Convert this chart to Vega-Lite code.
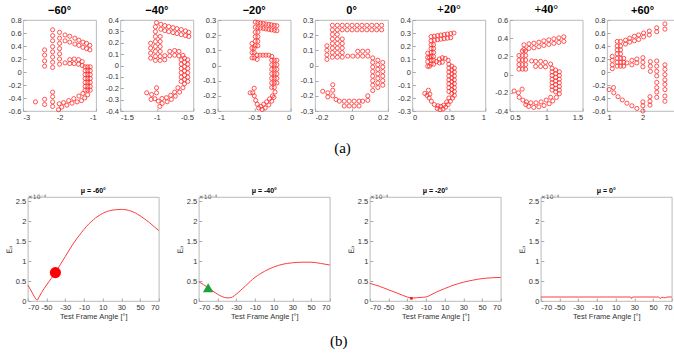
{
"$schema":"https://vega.github.io/schema/vega-lite/v6.json",
"padding":{"left":4,"top":2,"right":0,"bottom":0},
"background":"white",
"config":{
"view":{"stroke":"#a8a8a8","strokeWidth":0.8},
"numberFormat":"~r",
"locale":{"number":{"decimal":".","thousands":",","grouping":[3],"currency":["$",""],"minus":"-"}},
"axis":{"domain":false,"grid":false,"labelOverlap":false,"tickCount":20,"tickColor":"#a8a8a8","tickSize":-3,"labelFont":"Liberation Sans","labelFontSize":7.5,"labelColor":"#333333","labelPadding":5,"titleFont":"Liberation Sans","titleFontWeight":"normal","titleColor":"#333333","titleFontSize":7.5},
"title":{"font":"Liberation Sans","fontWeight":"bold","color":"#000000"}
},
"datasets":{
"p1":[{"x":-2.41,"y":0.34},{"x":-2.41,"y":0.26},{"x":-2.41,"y":0.17},{"x":-2.41,"y":0.09},
{"x":-2.19,"y":0.65},{"x":-2.19,"y":0.56},{"x":-2.19,"y":0.48},{"x":-2.19,"y":0.39},{"x":-2.19,"y":0.31},{"x":-2.19,"y":0.23},{"x":-2.19,"y":0.15},{"x":-2.19,"y":0.07},
{"x":-2.0,"y":0.61},{"x":-2.0,"y":0.52},{"x":-2.0,"y":0.44},{"x":-2.0,"y":0.36},{"x":-2.0,"y":0.28},{"x":-2.0,"y":0.2},{"x":-2.0,"y":0.12},
{"x":-1.85,"y":0.57},{"x":-1.72,"y":0.55},{"x":-1.58,"y":0.52},{"x":-1.47,"y":0.49},{"x":-1.36,"y":0.46},{"x":-1.26,"y":0.44},{"x":-1.17,"y":0.41},
{"x":-1.85,"y":0.48},{"x":-1.72,"y":0.46},{"x":-1.58,"y":0.43},{"x":-1.47,"y":0.41},{"x":-1.36,"y":0.38},{"x":-1.26,"y":0.36},{"x":-1.17,"y":0.34},
{"x":-1.85,"y":0.14},{"x":-1.72,"y":0.19},{"x":-1.6,"y":0.2},{"x":-1.48,"y":0.19},{"x":-1.38,"y":0.16},{"x":-1.72,"y":0.13},{"x":-1.6,"y":0.13},{"x":-1.48,"y":0.12},{"x":-1.38,"y":0.1},
{"x":-1.3,"y":0.08},{"x":-1.3,"y":0.02},{"x":-1.3,"y":-0.04},{"x":-1.3,"y":-0.1},{"x":-1.3,"y":-0.16},{"x":-1.3,"y":-0.22},{"x":-1.3,"y":-0.28},
{"x":-1.23,"y":0.08},{"x":-1.23,"y":0.02},{"x":-1.23,"y":-0.04},{"x":-1.23,"y":-0.1},{"x":-1.23,"y":-0.16},{"x":-1.23,"y":-0.22},{"x":-1.23,"y":-0.28},
{"x":-1.16,"y":0.08},{"x":-1.16,"y":0.02},{"x":-1.16,"y":-0.04},{"x":-1.16,"y":-0.1},{"x":-1.16,"y":-0.16},{"x":-1.16,"y":-0.22},{"x":-1.16,"y":-0.28},
{"x":-1.23,"y":-0.35},{"x":-1.31,"y":-0.4},{"x":-1.4,"y":-0.44},{"x":-1.52,"y":-0.46},{"x":-1.66,"y":-0.48},{"x":-1.8,"y":-0.51},{"x":-1.94,"y":-0.54},{"x":-2.03,"y":-0.58},
{"x":-1.36,"y":-0.33},{"x":-1.47,"y":-0.37},{"x":-1.61,"y":-0.41},{"x":-1.75,"y":-0.44},{"x":-1.89,"y":-0.47},{"x":-2.01,"y":-0.49},
{"x":-2.19,"y":-0.31},{"x":-2.19,"y":-0.38},{"x":-2.19,"y":-0.46},{"x":-2.19,"y":-0.53},{"x":-2.41,"y":-0.42},{"x":-2.41,"y":-0.5},{"x":-2.66,"y":-0.46}],
"p2":[{"x":-1.005,"y":0.377},{"x":-0.946,"y":0.362},{"x":-0.892,"y":0.351},{"x":-0.838,"y":0.342},{"x":-0.779,"y":0.333},{"x":-0.725,"y":0.324},{"x":-0.667,"y":0.316},{"x":-0.608,"y":0.304},{"x":-0.563,"y":0.292},
{"x":-0.946,"y":0.319},{"x":-0.892,"y":0.307},{"x":-0.838,"y":0.298},{"x":-0.779,"y":0.289},{"x":-0.725,"y":0.281},{"x":-0.667,"y":0.272},{"x":-0.608,"y":0.263},{"x":-0.563,"y":0.255},
{"x":-1.02,"y":0.34},{"x":-1.02,"y":0.298},{"x":-1.02,"y":0.255},{"x":-1.02,"y":0.211},{"x":-1.02,"y":0.167},{"x":-1.02,"y":0.124},{"x":-1.02,"y":0.08},{"x":-1.02,"y":0.045},
{"x":-0.955,"y":0.255},{"x":-0.955,"y":0.211},{"x":-0.955,"y":0.167},{"x":-0.955,"y":0.124},{"x":-0.955,"y":0.08},{"x":-0.955,"y":0.045},
{"x":-1.086,"y":0.196},{"x":-1.086,"y":0.153},{"x":-1.086,"y":0.109},{"x":-1.086,"y":0.065},
{"x":-0.892,"y":0.086},{"x":-0.824,"y":0.124},{"x":-0.757,"y":0.132},{"x":-0.698,"y":0.124},{"x":-0.644,"y":0.089},{"x":-0.892,"y":0.05},{"x":-0.824,"y":0.085},{"x":-0.757,"y":0.09},{"x":-0.698,"y":0.085},
{"x":-0.667,"y":0.05},{"x":-0.667,"y":0.012},{"x":-0.667,"y":-0.026},{"x":-0.667,"y":-0.064},{"x":-0.667,"y":-0.102},{"x":-0.667,"y":-0.14},
{"x":-0.622,"y":0.065},{"x":-0.622,"y":0.028},{"x":-0.622,"y":-0.01},{"x":-0.622,"y":-0.048},{"x":-0.622,"y":-0.086},{"x":-0.622,"y":-0.124},{"x":-0.622,"y":-0.161},
{"x":-0.577,"y":0.05},{"x":-0.577,"y":0.012},{"x":-0.577,"y":-0.026},{"x":-0.577,"y":-0.064},{"x":-0.577,"y":-0.102},{"x":-0.577,"y":-0.14},
{"x":-0.644,"y":-0.196},{"x":-0.689,"y":-0.234},{"x":-0.748,"y":-0.269},{"x":-0.802,"y":-0.298},{"x":-0.86,"y":-0.319},{"x":-0.928,"y":-0.333},{"x":-0.982,"y":-0.313},{"x":-1.027,"y":-0.292},
{"x":-0.712,"y":-0.196},{"x":-0.757,"y":-0.234},{"x":-0.811,"y":-0.262},{"x":-0.869,"y":-0.283},{"x":-0.93,"y":-0.29},{"x":-0.96,"y":-0.36},
{"x":-1.005,"y":-0.196},{"x":-1.005,"y":-0.24},{"x":-1.072,"y":-0.255},{"x":-1.14,"y":-0.24},{"x":-1.08,"y":-0.298}],
"p3":[{"x":-0.486,"y":0.286},{"x":-0.45,"y":0.283},{"x":-0.414,"y":0.28},{"x":-0.375,"y":0.277},{"x":-0.34,"y":0.274},{"x":-0.3,"y":0.271},{"x":-0.264,"y":0.268},{"x":-0.225,"y":0.265},{"x":-0.19,"y":0.262},
{"x":-0.486,"y":0.253},{"x":-0.45,"y":0.25},{"x":-0.414,"y":0.247},{"x":-0.375,"y":0.244},{"x":-0.34,"y":0.241},{"x":-0.3,"y":0.238},{"x":-0.264,"y":0.235},{"x":-0.225,"y":0.232},{"x":-0.19,"y":0.229},
{"x":-0.486,"y":0.22},{"x":-0.486,"y":0.19},{"x":-0.486,"y":0.16},{"x":-0.486,"y":0.13},{"x":-0.45,"y":0.22},{"x":-0.45,"y":0.19},{"x":-0.45,"y":0.16},{"x":-0.45,"y":0.13},
{"x":-0.53,"y":0.145},{"x":-0.53,"y":0.115},{"x":-0.53,"y":0.085},{"x":-0.53,"y":0.05},{"x":-0.5,"y":0.115},{"x":-0.5,"y":0.085},{"x":-0.5,"y":0.05},
{"x":-0.46,"y":0.068},{"x":-0.42,"y":0.068},{"x":-0.38,"y":0.068},{"x":-0.34,"y":0.068},{"x":-0.3,"y":0.068},{"x":-0.26,"y":0.06},{"x":-0.46,"y":0.04},
{"x":-0.26,"y":0.035},{"x":-0.26,"y":0.005},{"x":-0.26,"y":-0.025},{"x":-0.26,"y":-0.055},{"x":-0.26,"y":-0.085},{"x":-0.26,"y":-0.115},{"x":-0.26,"y":-0.145},
{"x":-0.225,"y":0.035},{"x":-0.225,"y":0.005},{"x":-0.225,"y":-0.025},{"x":-0.225,"y":-0.055},{"x":-0.225,"y":-0.085},{"x":-0.225,"y":-0.115},{"x":-0.225,"y":-0.145},
{"x":-0.19,"y":0.035},{"x":-0.19,"y":0.005},{"x":-0.19,"y":-0.025},{"x":-0.19,"y":-0.055},{"x":-0.19,"y":-0.085},{"x":-0.19,"y":-0.115},
{"x":-0.215,"y":-0.175},{"x":-0.25,"y":-0.2},{"x":-0.29,"y":-0.22},{"x":-0.33,"y":-0.24},{"x":-0.37,"y":-0.255},{"x":-0.41,"y":-0.27},{"x":-0.44,"y":-0.28},{"x":-0.39,"y":-0.29},{"x":-0.35,"y":-0.28},{"x":-0.3,"y":-0.26},{"x":-0.26,"y":-0.235},{"x":-0.23,"y":-0.21},
{"x":-0.556,"y":-0.18},{"x":-0.52,"y":-0.18},{"x":-0.5,"y":-0.15},{"x":-0.5,"y":-0.2},{"x":-0.48,"y":-0.23},{"x":-0.46,"y":-0.255}],
"p4":[{"x":-0.105,"y":0.265},{"x":-0.078,"y":0.265},{"x":-0.051,"y":0.265},{"x":-0.024,"y":0.265},{"x":0.003,"y":0.265},{"x":0.03,"y":0.265},{"x":0.057,"y":0.265},{"x":0.084,"y":0.265},{"x":0.111,"y":0.265},{"x":0.138,"y":0.265},{"x":0.165,"y":0.265},
{"x":-0.105,"y":0.235},{"x":-0.078,"y":0.235},{"x":-0.051,"y":0.235},{"x":-0.024,"y":0.235},{"x":0.003,"y":0.235},{"x":0.03,"y":0.235},{"x":0.057,"y":0.235},{"x":0.084,"y":0.235},{"x":0.111,"y":0.235},{"x":0.138,"y":0.235},{"x":0.165,"y":0.235},
{"x":-0.105,"y":0.205},{"x":-0.105,"y":0.175},{"x":-0.105,"y":0.145},{"x":-0.105,"y":0.115},{"x":-0.105,"y":0.085},{"x":-0.105,"y":0.055},
{"x":-0.078,"y":0.205},{"x":-0.078,"y":0.175},{"x":-0.078,"y":0.145},{"x":-0.078,"y":0.115},{"x":-0.078,"y":0.085},{"x":-0.078,"y":0.055},
{"x":-0.051,"y":0.175},{"x":-0.051,"y":0.145},{"x":-0.051,"y":0.115},{"x":-0.051,"y":0.085},{"x":-0.051,"y":0.055},
{"x":-0.135,"y":0.13},{"x":-0.135,"y":0.1},{"x":-0.135,"y":0.07},{"x":-0.135,"y":0.04},
{"x":0.034,"y":0.094},{"x":0.061,"y":0.094},{"x":0.089,"y":0.094},{"x":-0.021,"y":0.062},{"x":0.007,"y":0.062},{"x":0.034,"y":0.062},{"x":0.061,"y":0.062},{"x":0.089,"y":0.062},
{"x":0.116,"y":0.05},{"x":0.116,"y":0.02},{"x":0.116,"y":-0.01},{"x":0.116,"y":-0.04},{"x":0.116,"y":-0.07},{"x":0.116,"y":-0.1},{"x":0.116,"y":-0.13},
{"x":0.144,"y":0.035},{"x":0.144,"y":0.005},{"x":0.144,"y":-0.025},{"x":0.144,"y":-0.055},{"x":0.144,"y":-0.085},{"x":0.144,"y":-0.115},{"x":0.144,"y":-0.145},
{"x":0.171,"y":0.02},{"x":0.171,"y":-0.01},{"x":0.171,"y":-0.04},{"x":0.171,"y":-0.07},{"x":0.171,"y":-0.1},{"x":0.171,"y":-0.13},
{"x":0.116,"y":-0.165},{"x":0.089,"y":-0.2},{"x":0.089,"y":-0.23},
{"x":-0.067,"y":-0.235},{"x":-0.04,"y":-0.235},{"x":-0.013,"y":-0.235},{"x":0.014,"y":-0.235},{"x":0.041,"y":-0.235},{"x":0.061,"y":-0.235},
{"x":-0.04,"y":-0.267},{"x":-0.013,"y":-0.267},{"x":0.014,"y":-0.267},{"x":0.041,"y":-0.267},
{"x":-0.158,"y":-0.17},{"x":-0.13,"y":-0.18},{"x":-0.103,"y":-0.127},{"x":-0.13,"y":-0.207},{"x":-0.103,"y":-0.163},{"x":-0.103,"y":-0.2},{"x":-0.085,"y":-0.224}],
"p5":[{"x":0.256,"y":0.272},{"x":0.3,"y":0.276},{"x":0.345,"y":0.28},{"x":0.39,"y":0.284},{"x":0.435,"y":0.288},{"x":0.48,"y":0.292},{"x":0.525,"y":0.296},{"x":0.57,"y":0.3},
{"x":0.256,"y":0.24},{"x":0.3,"y":0.244},{"x":0.345,"y":0.248},{"x":0.39,"y":0.252},{"x":0.435,"y":0.256},{"x":0.48,"y":0.26},{"x":0.525,"y":0.264},
{"x":0.256,"y":0.21},{"x":0.256,"y":0.18},{"x":0.256,"y":0.15},{"x":0.256,"y":0.12},{"x":0.256,"y":0.09},{"x":0.256,"y":0.06},
{"x":0.29,"y":0.21},{"x":0.29,"y":0.18},{"x":0.29,"y":0.15},{"x":0.29,"y":0.12},{"x":0.29,"y":0.09},{"x":0.29,"y":0.06},
{"x":0.21,"y":0.145},{"x":0.21,"y":0.112},{"x":0.21,"y":0.079},{"x":0.21,"y":0.044},{"x":0.235,"y":0.112},{"x":0.235,"y":0.044},
{"x":0.33,"y":0.08},{"x":0.37,"y":0.1},{"x":0.41,"y":0.11},{"x":0.45,"y":0.105},{"x":0.49,"y":0.09},{"x":0.37,"y":0.07},{"x":0.41,"y":0.075},
{"x":0.5,"y":0.06},{"x":0.5,"y":0.03},{"x":0.5,"y":0.0},{"x":0.5,"y":-0.03},{"x":0.5,"y":-0.06},{"x":0.5,"y":-0.09},{"x":0.5,"y":-0.12},{"x":0.5,"y":-0.15},
{"x":0.54,"y":0.045},{"x":0.54,"y":0.015},{"x":0.54,"y":-0.015},{"x":0.54,"y":-0.045},{"x":0.54,"y":-0.075},{"x":0.54,"y":-0.105},{"x":0.54,"y":-0.135},{"x":0.54,"y":-0.165},
{"x":0.575,"y":0.03},{"x":0.575,"y":0.0},{"x":0.575,"y":-0.03},{"x":0.575,"y":-0.06},{"x":0.575,"y":-0.09},{"x":0.575,"y":-0.12},{"x":0.575,"y":-0.15},{"x":0.575,"y":-0.18},
{"x":0.55,"y":-0.2},{"x":0.52,"y":-0.225},{"x":0.49,"y":-0.25},{"x":0.455,"y":-0.27},{"x":0.42,"y":-0.285},{"x":0.38,"y":-0.29},{"x":0.34,"y":-0.28},
{"x":0.5,"y":-0.2},{"x":0.47,"y":-0.23},{"x":0.43,"y":-0.255},{"x":0.39,"y":-0.265},{"x":0.35,"y":-0.26},
{"x":0.17,"y":-0.165},{"x":0.22,"y":-0.14},{"x":0.2,"y":-0.18},{"x":0.23,"y":-0.2},{"x":0.26,"y":-0.225},{"x":0.3,"y":-0.25},{"x":0.24,"y":-0.17}],
"p6":[{"x":0.695,"y":0.327},{"x":0.764,"y":0.338},{"x":0.832,"y":0.345},{"x":0.9,"y":0.356},{"x":0.968,"y":0.371},{"x":1.036,"y":0.382},{"x":1.105,"y":0.393},{"x":1.173,"y":0.404},{"x":1.241,"y":0.415},
{"x":0.695,"y":0.277},{"x":0.764,"y":0.288},{"x":0.832,"y":0.295},{"x":0.9,"y":0.306},{"x":0.968,"y":0.321},{"x":1.036,"y":0.332},{"x":1.105,"y":0.343},{"x":1.173,"y":0.354},{"x":1.241,"y":0.365},
{"x":0.627,"y":0.21},{"x":0.627,"y":0.16},{"x":0.627,"y":0.11},{"x":0.627,"y":0.06},
{"x":0.673,"y":0.26},{"x":0.673,"y":0.21},{"x":0.673,"y":0.16},{"x":0.673,"y":0.11},{"x":0.673,"y":0.06},
{"x":0.718,"y":0.26},{"x":0.718,"y":0.21},{"x":0.718,"y":0.16},{"x":0.718,"y":0.11},{"x":0.718,"y":0.06},
{"x":0.8,"y":0.15},{"x":0.855,"y":0.145},{"x":0.923,"y":0.145},{"x":0.99,"y":0.135},{"x":1.06,"y":0.116},{"x":0.855,"y":0.09},{"x":0.923,"y":0.09},{"x":0.99,"y":0.085},
{"x":1.08,"y":0.07},{"x":1.08,"y":0.03},{"x":1.08,"y":-0.01},{"x":1.08,"y":-0.05},{"x":1.08,"y":-0.09},{"x":1.08,"y":-0.13},{"x":1.08,"y":-0.17},
{"x":1.13,"y":0.05},{"x":1.13,"y":0.01},{"x":1.13,"y":-0.03},{"x":1.13,"y":-0.07},{"x":1.13,"y":-0.11},{"x":1.13,"y":-0.15},{"x":1.13,"y":-0.19},
{"x":1.18,"y":0.03},{"x":1.18,"y":-0.01},{"x":1.18,"y":-0.05},{"x":1.18,"y":-0.09},{"x":1.18,"y":-0.13},{"x":1.18,"y":-0.17},{"x":1.18,"y":-0.21},
{"x":1.14,"y":-0.25},{"x":1.09,"y":-0.29},{"x":1.04,"y":-0.32},{"x":0.97,"y":-0.34},{"x":0.9,"y":-0.355},{"x":0.83,"y":-0.36},
{"x":1.06,"y":-0.25},{"x":1.0,"y":-0.28},{"x":0.93,"y":-0.3},{"x":0.86,"y":-0.31},{"x":0.79,"y":-0.31},{"x":0.73,"y":-0.3},{"x":0.68,"y":-0.28},
{"x":0.56,"y":-0.18},{"x":0.62,"y":-0.2},{"x":0.67,"y":-0.16},{"x":0.63,"y":-0.25},{"x":0.72,"y":-0.33},{"x":0.76,"y":-0.35}],
"p7":[{"x":1.287,"y":0.47},{"x":1.287,"y":0.4},{"x":1.287,"y":0.34},{"x":1.287,"y":0.28},{"x":1.287,"y":0.21},{"x":1.287,"y":0.15},{"x":1.287,"y":0.09},
{"x":1.38,"y":0.47},{"x":1.38,"y":0.4},{"x":1.38,"y":0.34},{"x":1.38,"y":0.28},{"x":1.38,"y":0.21},{"x":1.38,"y":0.15},{"x":1.38,"y":0.09},
{"x":1.47,"y":0.21},{"x":1.47,"y":0.15},{"x":1.47,"y":0.09},
{"x":1.148,"y":0.24},{"x":1.148,"y":0.18},{"x":1.148,"y":0.11},{"x":1.148,"y":0.05},
{"x":1.52,"y":0.49},{"x":1.64,"y":0.52},{"x":1.77,"y":0.55},{"x":1.89,"y":0.57},{"x":2.03,"y":0.6},{"x":2.19,"y":0.63},{"x":2.4,"y":0.68},{"x":2.63,"y":0.74},
{"x":1.52,"y":0.43},{"x":1.64,"y":0.46},{"x":1.77,"y":0.48},{"x":1.89,"y":0.5},{"x":2.03,"y":0.54},{"x":2.19,"y":0.57},{"x":2.4,"y":0.62},{"x":2.63,"y":0.66},
{"x":1.56,"y":0.14},{"x":1.7,"y":0.18},{"x":1.84,"y":0.2},{"x":2.01,"y":0.22},{"x":1.7,"y":0.11},{"x":1.84,"y":0.14},{"x":2.01,"y":0.15},{"x":2.01,"y":0.08},
{"x":2.22,"y":0.16},{"x":2.22,"y":0.09},{"x":2.22,"y":0.01},
{"x":2.4,"y":0.17},{"x":2.4,"y":0.09},{"x":2.4,"y":0.01},{"x":2.4,"y":-0.06},{"x":2.4,"y":-0.16},{"x":2.4,"y":-0.24},{"x":2.4,"y":-0.31},{"x":2.4,"y":-0.39},
{"x":2.63,"y":0.11},{"x":2.63,"y":0.04},{"x":2.63,"y":-0.04},{"x":2.63,"y":-0.12},{"x":2.63,"y":-0.19},{"x":2.63,"y":-0.27},{"x":2.63,"y":-0.37},{"x":2.63,"y":-0.45},
{"x":1.06,"y":-0.27},{"x":1.18,"y":-0.24},{"x":1.19,"y":-0.32},{"x":1.31,"y":-0.38},{"x":1.43,"y":-0.43},{"x":1.56,"y":-0.48},{"x":1.7,"y":-0.52},{"x":1.84,"y":-0.56},{"x":2.01,"y":-0.6},
{"x":2.01,"y":-0.52},{"x":2.01,"y":-0.46},{"x":2.21,"y":-0.51},{"x":2.21,"y":-0.45},{"x":2.21,"y":-0.38}],
"c1":[{"a":-70,"e":0.4},{"a":-67,"e":0.28},{"a":-64,"e":0.15},{"a":-61,"e":0.04},{"a":-60,"e":0.02},{"a":-58,"e":0.1},{"a":-55,"e":0.22},{"a":-50,"e":0.4},{"a":-45,"e":0.56},{"a":-40,"e":0.73},{"a":-35,"e":0.92},{"a":-30,"e":1.11},{"a":-25,"e":1.3},{"a":-20,"e":1.48},{"a":-15,"e":1.64},{"a":-10,"e":1.79},{"a":-5,"e":1.92},{"a":0,"e":2.03},{"a":5,"e":2.12},{"a":10,"e":2.19},{"a":15,"e":2.24},{"a":20,"e":2.27},{"a":25,"e":2.285},{"a":30,"e":2.29},{"a":35,"e":2.28},{"a":40,"e":2.25},{"a":45,"e":2.2},{"a":50,"e":2.13},{"a":55,"e":2.05},{"a":60,"e":1.96},{"a":65,"e":1.86},{"a":70,"e":1.76}],
"c2":[{"a":-70,"e":0.48},{"a":-65,"e":0.41},{"a":-60,"e":0.33},{"a":-55,"e":0.25},{"a":-50,"e":0.17},{"a":-45,"e":0.11},{"a":-40,"e":0.08},{"a":-37,"e":0.08},{"a":-34,"e":0.1},{"a":-30,"e":0.17},{"a":-25,"e":0.27},{"a":-20,"e":0.38},{"a":-15,"e":0.49},{"a":-10,"e":0.59},{"a":-5,"e":0.67},{"a":0,"e":0.74},{"a":5,"e":0.8},{"a":10,"e":0.85},{"a":15,"e":0.89},{"a":20,"e":0.92},{"a":30,"e":0.955},{"a":40,"e":0.97},{"a":50,"e":0.97},{"a":60,"e":0.94},{"a":70,"e":0.9}],
"c3":[{"a":-70,"e":0.44},{"a":-60,"e":0.37},{"a":-50,"e":0.28},{"a":-40,"e":0.19},{"a":-30,"e":0.1},{"a":-27,"e":0.08},{"a":-25,"e":0.075},{"a":-20,"e":0.08},{"a":-15,"e":0.09},{"a":-10,"e":0.1},{"a":-5,"e":0.15},{"a":0,"e":0.21},{"a":10,"e":0.31},{"a":20,"e":0.4},{"a":30,"e":0.47},{"a":40,"e":0.52},{"a":50,"e":0.56},{"a":60,"e":0.58},{"a":70,"e":0.59}],
"c4":[{"a":-70,"e":0.1},{"a":-30,"e":0.1},{"a":0,"e":0.1},{"a":26,"e":0.1},{"a":27,"e":0.06},{"a":28,"e":0.1},{"a":56,"e":0.1},{"a":57.5,"e":0.06},{"a":59,"e":0.09},{"a":61,"e":0.09},{"a":63,"e":0.08},{"a":65,"e":0.1},{"a":70,"e":0.1}],
"sc":[{"label":"×10⁻⁴"}]
},
"spacing":29,
"center":true,
"vconcat":[
{"spacing":24.33,"bounds":"flush",
"hconcat":[
{"width":73,"height":91,"title":{"text":"−60°","fontSize":11,"offset":0},"data":{"name":"p1"},"mark":{"type":"point","shape":"circle","filled":false,"color":"#ff2a2a","size":17,"strokeWidth":0.8,"opacity":1},
"encoding":{"x":{"field":"x","type":"quantitative","scale":{"domain":[-3,-1]},"axis":{"values":[-3,-2,-1],"title":null}},"y":{"field":"y","type":"quantitative","scale":{"domain":[-0.6,0.8]},"axis":{"values":[-0.6,-0.4,-0.2,0,0.2,0.4,0.6,0.8],"title":null}}}},
{"width":73,"height":91,"title":{"text":"−40°","fontSize":11,"offset":0},"data":{"name":"p2"},"mark":{"type":"point","shape":"circle","filled":false,"color":"#ff2a2a","size":17,"strokeWidth":0.8,"opacity":1},
"encoding":{"x":{"field":"x","type":"quantitative","scale":{"domain":[-1.5,-0.5]},"axis":{"values":[-1.5,-1,-0.5],"title":null}},"y":{"field":"y","type":"quantitative","scale":{"domain":[-0.4,0.4]},"axis":{"values":[-0.4,-0.3,-0.2,-0.1,0,0.1,0.2,0.3,0.4],"title":null}}}},
{"width":73,"height":91,"title":{"text":"−20°","fontSize":11,"offset":0},"data":{"name":"p3"},"mark":{"type":"point","shape":"circle","filled":false,"color":"#ff2a2a","size":17,"strokeWidth":0.8,"opacity":1},
"encoding":{"x":{"field":"x","type":"quantitative","scale":{"domain":[-1,0]},"axis":{"values":[-1,-0.5,0],"title":null}},"y":{"field":"y","type":"quantitative","scale":{"domain":[-0.3,0.3]},"axis":{"values":[-0.3,-0.2,-0.1,0,0.1,0.2,0.3],"title":null}}}},
{"width":73,"height":91,"title":{"text":"0°","fontSize":11,"offset":0},
"layer":[
{"data":{"name":"p4"},"mark":{"type":"point","shape":"circle","filled":false,"color":"#ff2a2a","size":17,"strokeWidth":0.8,"opacity":1},
"encoding":{"x":{"field":"x","type":"quantitative","scale":{"domain":[-0.2,0.2]},"axis":{"values":[-0.2,0,0.2],"title":null,"tickCount":20}},"y":{"field":"y","type":"quantitative","scale":{"domain":[-0.3,0.3]},"axis":{"values":[-0.3,-0.2,-0.1,0,0.1,0.2,0.3],"title":null,"tickCount":20}}}},
{"data":{"values":[{"label":"(a)"}]},"mark":{"type":"text","font":"Liberation Serif","fontSize":15,"color":"#000000","baseline":"middle","align":"center","dx":-9,"dy":37},"encoding":{"text":{"field":"label"},"x":{"datum":0},"y":{"datum":-0.3}}}
]},
{"width":73,"height":91,"title":{"text":"+20°","fontSize":12,"font":"Liberation Serif","offset":0},"data":{"name":"p5"},"mark":{"type":"point","shape":"circle","filled":false,"color":"#ff2a2a","size":17,"strokeWidth":0.8,"opacity":1},
"encoding":{"x":{"field":"x","type":"quantitative","scale":{"domain":[0,1]},"axis":{"values":[0,0.5,1],"title":null}},"y":{"field":"y","type":"quantitative","scale":{"domain":[-0.3,0.4]},"axis":{"values":[-0.3,-0.2,-0.1,0,0.1,0.2,0.3,0.4],"title":null}}}},
{"width":73,"height":91,"title":{"text":"+40°","fontSize":12,"font":"Liberation Serif","offset":0},"data":{"name":"p6"},"mark":{"type":"point","shape":"circle","filled":false,"color":"#ff2a2a","size":17,"strokeWidth":0.8,"opacity":1},
"encoding":{"x":{"field":"x","type":"quantitative","scale":{"domain":[0.5,1.5]},"axis":{"values":[0.5,1,1.5],"title":null}},"y":{"field":"y","type":"quantitative","scale":{"domain":[-0.4,0.6]},"axis":{"values":[-0.4,-0.2,0,0.2,0.4,0.6],"title":null}}}},
{"width":71,"height":91,"title":{"text":"+60°","fontSize":11,"offset":0},"data":{"name":"p7"},"mark":{"type":"point","shape":"circle","filled":false,"color":"#ff2a2a","size":17,"strokeWidth":0.8,"opacity":1},
"encoding":{"x":{"field":"x","type":"quantitative","scale":{"domain":[1,3]},"axis":{"values":[1,2,3],"title":null,"labelFlush":true}},"y":{"field":"y","type":"quantitative","scale":{"domain":[-0.6,0.8]},"axis":{"values":[-0.6,-0.4,-0.2,0,0.2,0.4,0.6,0.8],"title":null}}}}
]},
{"spacing":40,"bounds":"flush",
"hconcat":[
{"width":131,"height":104,"title":{"text":"μ = -60°","fontSize":7,"offset":0},
"layer":[
{"data":{"name":"c1"},"mark":{"type":"line","color":"#ff3c3c","strokeWidth":1,"interpolate":"monotone"},
"encoding":{"x":{"field":"a","type":"quantitative","scale":{"domain":[-70,70]},"axis":{"values":[-70,-50,-30,-10,10,30,50,70],"tickCount":20,"title":"Test Frame Angle [°]","titlePadding":2}},"y":{"field":"e","type":"quantitative","scale":{"domain":[0,2.5]},"axis":{"values":[0,0.5,1,1.5,2,2.5],"tickCount":20,"title":"Eₚ","titleFont":"DejaVu Sans","titlePadding":2}}}},
{"data":{"values":[{"a":-40.5,"e":0.71}]},"mark":{"type":"circle","color":"#ff0000","size":125,"opacity":1},"encoding":{"x":{"field":"a","type":"quantitative"},"y":{"field":"e","type":"quantitative"}}},
{"data":{"name":"sc"},"mark":{"type":"text","align":"left","baseline":"bottom","font":"DejaVu Sans","fontSize":6,"color":"#555555","dy":-1},"encoding":{"text":{"field":"label"},"x":{"datum":-70},"y":{"datum":2.5}}}
]},
{"width":131,"height":104,"title":{"text":"μ = -40°","fontSize":7,"offset":0},
"layer":[
{"data":{"name":"c2"},"mark":{"type":"line","color":"#ff3c3c","strokeWidth":1,"interpolate":"monotone"},
"encoding":{"x":{"field":"a","type":"quantitative","scale":{"domain":[-70,70]},"axis":{"values":[-70,-50,-30,-10,10,30,50,70],"tickCount":20,"title":"Test Frame Angle [°]","titlePadding":2}},"y":{"field":"e","type":"quantitative","scale":{"domain":[0,2.5]},"axis":{"values":[0,0.5,1,1.5,2,2.5],"tickCount":20,"title":"Eₚ","titleFont":"DejaVu Sans","titlePadding":2}}}},
{"data":{"values":[{"a":-60,"e":0.33}]},"mark":{"type":"point","shape":"triangle-up","filled":true,"color":"#1aa33a","size":110,"opacity":1},"encoding":{"x":{"field":"a","type":"quantitative"},"y":{"field":"e","type":"quantitative"}}},
{"data":{"name":"sc"},"mark":{"type":"text","align":"left","baseline":"bottom","font":"DejaVu Sans","fontSize":6,"color":"#555555","dy":-1},"encoding":{"text":{"field":"label"},"x":{"datum":-70},"y":{"datum":2.5}}},
{"data":{"values":[{"label":"(b)"}]},"mark":{"type":"text","font":"Liberation Serif","fontSize":15,"color":"#000000","baseline":"middle","align":"center","dx":9,"dy":40},"encoding":{"text":{"field":"label"},"x":{"datum":70},"y":{"datum":0}}}
]},
{"width":131,"height":104,"title":{"text":"μ = -20°","fontSize":7,"offset":0},
"layer":[
{"data":{"name":"c3"},"mark":{"type":"line","color":"#ff3c3c","strokeWidth":1,"interpolate":"monotone"},
"encoding":{"x":{"field":"a","type":"quantitative","scale":{"domain":[-70,70]},"axis":{"values":[-70,-50,-30,-10,10,30,50,70],"tickCount":20,"title":"Test Frame Angle [°]","titlePadding":2}},"y":{"field":"e","type":"quantitative","scale":{"domain":[0,2.5]},"axis":{"values":[0,0.5,1,1.5,2,2.5],"tickCount":20,"title":"Eₚ","titleFont":"DejaVu Sans","titlePadding":2}}}},
{"data":{"values":[{"a":-25.5,"e":0.065}]},"mark":{"type":"square","color":"#ff0000","size":6,"opacity":1},"encoding":{"x":{"field":"a","type":"quantitative"},"y":{"field":"e","type":"quantitative"}}},
{"data":{"name":"sc"},"mark":{"type":"text","align":"left","baseline":"bottom","font":"DejaVu Sans","fontSize":6,"color":"#555555","dy":-1},"encoding":{"text":{"field":"label"},"x":{"datum":-70},"y":{"datum":2.5}}}
]},
{"width":131,"height":104,"title":{"text":"μ = 0°","fontSize":7,"offset":0},
"layer":[
{"data":{"name":"c4"},"mark":{"type":"line","color":"#ff3c3c","strokeWidth":1},
"encoding":{"x":{"field":"a","type":"quantitative","scale":{"domain":[-70,70]},"axis":{"values":[-70,-50,-30,-10,10,30,50,70],"tickCount":20,"title":"Test Frame Angle [°]","titlePadding":2}},"y":{"field":"e","type":"quantitative","scale":{"domain":[0,2.5]},"axis":{"values":[0,0.5,1,1.5,2,2.5],"tickCount":20,"title":"Eₚ","titleFont":"DejaVu Sans","titlePadding":2}}}},
{"data":{"name":"sc"},"mark":{"type":"text","align":"left","baseline":"bottom","font":"DejaVu Sans","fontSize":6,"color":"#555555","dy":-1},"encoding":{"text":{"field":"label"},"x":{"datum":-70},"y":{"datum":2.5}}}
]}
]}
]
}
